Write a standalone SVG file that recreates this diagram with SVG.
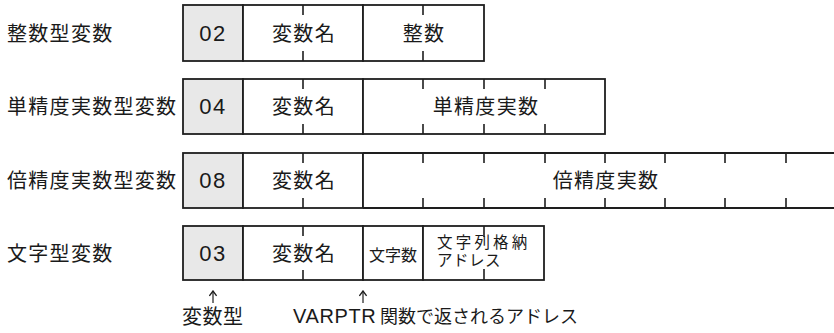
<svg xmlns="http://www.w3.org/2000/svg" width="834" height="333" viewBox="0 0 834 333">
<defs>
<style>
.bg{fill:#ffffff}
.box{fill:#ffffff;stroke:#1e1e1e;stroke-width:1.8}
.type{fill:#e8e8e8;stroke:#1e1e1e;stroke-width:1.8}
.ln{stroke:#1e1e1e;stroke-width:1.8;fill:none}
.tk{stroke:#1e1e1e;stroke-width:1.6;fill:none}
.jp{font-family:"Noto Sans CJK JP","Noto Sans",sans-serif;fill:#1a1a1a}
.lab{font-size:20px;letter-spacing:1.3px}
.cell{font-size:20px;letter-spacing:1.3px;text-anchor:middle}
.num{font-family:"Liberation Sans",Arial,sans-serif;font-size:22px;letter-spacing:1.5px;text-anchor:middle;fill:#1a1a1a}
.arr{stroke:#1e1e1e;stroke-width:1.2;fill:none}
</style>
<marker id="ah" viewBox="0 0 10 10" refX="9" refY="5" markerWidth="9" markerHeight="9" markerUnits="userSpaceOnUse" orient="auto">
<path d="M3.5,1 L9,5 L3.5,9" fill="none" stroke="#1e1e1e" stroke-width="1.5"/>
</marker>
</defs>
<rect class="bg" x="0" y="0" width="834" height="333"/>

<g id="row-int">
<text class="jp lab" x="7" y="41">整数型変数</text>
<rect class="type" x="183" y="5" width="60" height="56"/>
<rect class="box" x="243" y="5" width="120" height="56"/>
<rect class="box" x="363" y="5" width="121" height="56"/>
<path class="tk" d="M303,5v10M303,61v-10M423,5v10M423,61v-10"/>
<text class="num" x="213" y="41">02</text>
<text class="jp cell" x="304" y="41">変数名</text>
<text class="jp cell" x="424" y="41">整数</text>
</g>

<g id="row-single">
<text class="jp lab" x="7" y="114">単精度実数型変数</text>
<rect class="type" x="183" y="79" width="60" height="55"/>
<rect class="box" x="243" y="79" width="120" height="55"/>
<rect class="box" x="363" y="79" width="242" height="55"/>
<path class="tk" d="M303,79v10M303,134v-10M423,79v10M423,134v-10M484,79v10M484,134v-10M545,79v10M545,134v-10"/>
<text class="num" x="213" y="114">04</text>
<text class="jp cell" x="304" y="114">変数名</text>
<text class="jp cell" x="486" y="114">単精度実数</text>
</g>

<g id="row-double">
<text class="jp lab" x="7" y="188">倍精度実数型変数</text>
<rect class="type" x="183" y="153" width="60" height="55"/>
<rect class="box" x="243" y="153" width="120" height="55"/>
<rect x="363" y="153" width="475" height="55" fill="#ffffff"/>
<path class="ln" d="M363,153H834M363,208H834M363,153V208"/>
<path class="tk" d="M303,153v10M303,208v-10M423,153v10M423,208v-10M484,153v10M484,208v-10M545,153v10M545,208v-10M605,153v10M605,208v-10M665,153v10M665,208v-10M725,153v10M725,208v-10M786,153v10M786,208v-10"/>
<text class="num" x="213" y="188">08</text>
<text class="jp cell" x="304" y="188">変数名</text>
<text class="jp cell" x="606" y="188">倍精度実数</text>
</g>

<g id="row-string">
<text class="jp lab" x="7" y="261">文字型変数</text>
<rect class="type" x="183" y="226" width="60" height="54"/>
<rect class="box" x="243" y="226" width="120" height="54"/>
<rect class="box" x="363" y="226" width="60" height="54"/>
<rect class="box" x="423" y="226" width="121" height="54"/>
<path class="tk" d="M303,226v10M303,280v-10M484,226v11M484,280v-11"/>
<text class="num" x="213" y="261">03</text>
<text class="jp cell" x="304" y="261">変数名</text>
<text class="jp" x="393" y="261" font-size="16" text-anchor="middle">文字数</text>
<text class="jp" font-size="15.5"><tspan x="437" y="248" letter-spacing="3.2">文字列格納</tspan><tspan x="437" y="266" letter-spacing="0.5">アドレス</tspan></text>
</g>

<g id="connectors">
<path class="arr" d="M213,303V291" marker-end="url(#ah)"/>
<path class="arr" d="M363,303V291" marker-end="url(#ah)"/>
</g>

<g id="label-type">
<text class="jp" x="182" y="324" font-size="20" letter-spacing="0.5">変数型</text>
</g>
<g id="label-varptr">
<text y="323"><tspan x="293" font-family="Liberation Sans, Arial, sans-serif" font-size="20" fill="#1a1a1a" letter-spacing="0.6">VARPTR</tspan><tspan x="380" class="jp" font-size="18">関数で返されるアドレス</tspan></text>
</g>
</svg>
